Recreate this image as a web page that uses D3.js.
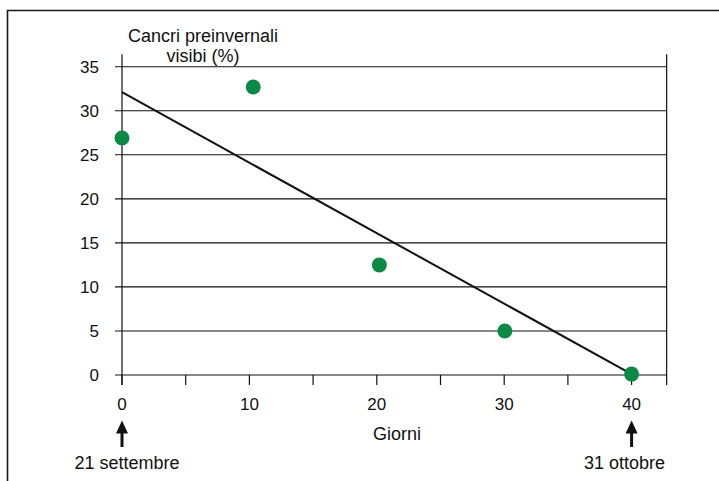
<!DOCTYPE html>
<html>
<head>
<meta charset="utf-8">
<script src="https://cdn.jsdelivr.net/npm/d3@7"></script>
<style>
  html, body { margin: 0; padding: 0; background: #fff; }
  svg { display: block; }
  text { font-family: "Liberation Sans", Arial, Helvetica, sans-serif; fill: #111; }
</style>
</head>
<body>
<svg id="chart" width="719" height="481"></svg>
<script>
// Data
const days = [0, 10.3, 20.2, 30.05, 40];
const cankers = [26.9, 32.7, 12.5, 5.0, 0.1];
const trendDays = [0, 40];
const trendValues = [32.1, 0.1];
const xTicks = [0, 10, 20, 30, 40];
const xMinorTicks = [0, 5, 10, 15, 20, 25, 30, 35, 40];
const yTicks = [0, 5, 10, 15, 20, 25, 30, 35];
const yTitle = ["Cancri preinvernali", "visibi (%)"];
const xTitle = "Giorni";
const dateMarks = [{ day: 0, label: "21 settembre" }, { day: 40, label: "31 ottobre" }];
const xAxisEnd = 42.75;
const yAxisTop = 36.4;

const svg = d3.select("#chart");
const x = d3.scaleLinear().domain([0, 40]).range([122, 631.6]);
const y = d3.scaleLinear().domain([0, 35]).range([375, 66.7]);
const green = "#0a8a44";
const ink = "#111";

// Frame (top and left border)
svg.append("path")
  .attr("d", `M7.5,490 L7.5,10.5 L730,10.5`)
  .attr("fill", "none").attr("stroke", "#1a1a1a").attr("stroke-width", 1.6);

// Horizontal gridlines
svg.append("g").selectAll("line").data(yTicks).join("line")
  .attr("x1", x(0) - 7).attr("x2", x(xAxisEnd))
  .attr("y1", d => y(d)).attr("y2", d => y(d))
  .attr("stroke", ink).attr("stroke-width", 1.1);

// Vertical axis lines (left and right)
[0, xAxisEnd].forEach(v => {
  svg.append("line")
    .attr("x1", x(v)).attr("x2", x(v))
    .attr("y1", y(yAxisTop)).attr("y2", y(0) + 10)
    .attr("stroke", ink).attr("stroke-width", 1.2);
});

// X ticks
svg.append("g").selectAll("line").data(xMinorTicks).join("line")
  .attr("x1", d => x(d)).attr("x2", d => x(d))
  .attr("y1", y(0)).attr("y2", y(0) + 10)
  .attr("stroke", ink).attr("stroke-width", 1.2);

// Y tick labels
svg.append("g").selectAll("text").data(yTicks).join("text")
  .attr("x", 99).attr("y", d => y(d))
  .attr("dy", "0.35em")
  .attr("text-anchor", "end")
  .attr("font-size", 17)
  .text(d => d);

// X tick labels
svg.append("g").selectAll("text").data(xTicks).join("text")
  .attr("x", d => x(d)).attr("y", 410)
  .attr("text-anchor", "middle")
  .attr("font-size", 17)
  .text(d => d);

// Axis titles
svg.append("text")
  .attr("x", 203).attr("y", 42)
  .attr("text-anchor", "middle").attr("font-size", 18)
  .text(yTitle[0]);
svg.append("text")
  .attr("x", 203).attr("y", 62)
  .attr("text-anchor", "middle").attr("font-size", 18)
  .text(yTitle[1]);
svg.append("text")
  .attr("x", 397).attr("y", 440)
  .attr("text-anchor", "middle").attr("font-size", 18)
  .text(xTitle);

// Date arrows and labels
dateMarks.forEach(m => {
  const cx = x(m.day);
  svg.append("line")
    .attr("x1", cx).attr("x2", cx)
    .attr("y1", 432).attr("y2", 447)
    .attr("stroke", ink).attr("stroke-width", 3);
  svg.append("path")
    .attr("d", `M${cx},420.5 L${cx - 6},433.5 L${cx + 6},433.5 Z`)
    .attr("fill", ink);
  svg.append("text")
    .attr("x", cx + (m.day === 0 ? 5 : -7)).attr("y", 469)
    .attr("text-anchor", "middle").attr("font-size", 18)
    .text(m.label);
});

// Trend line
const line = d3.line().x(d => x(d[0])).y(d => y(d[1]));
svg.append("path")
  .datum(trendDays.map((d, i) => [d, trendValues[i]]))
  .attr("d", line)
  .attr("fill", "none").attr("stroke", ink).attr("stroke-width", 2);

// Points
svg.append("g").selectAll("circle").data(days.map((d, i) => [d, cankers[i]])).join("circle")
  .attr("cx", d => x(d[0])).attr("cy", d => y(d[1]))
  .attr("r", 7.5)
  .attr("fill", green);
</script>
</body>
</html>
